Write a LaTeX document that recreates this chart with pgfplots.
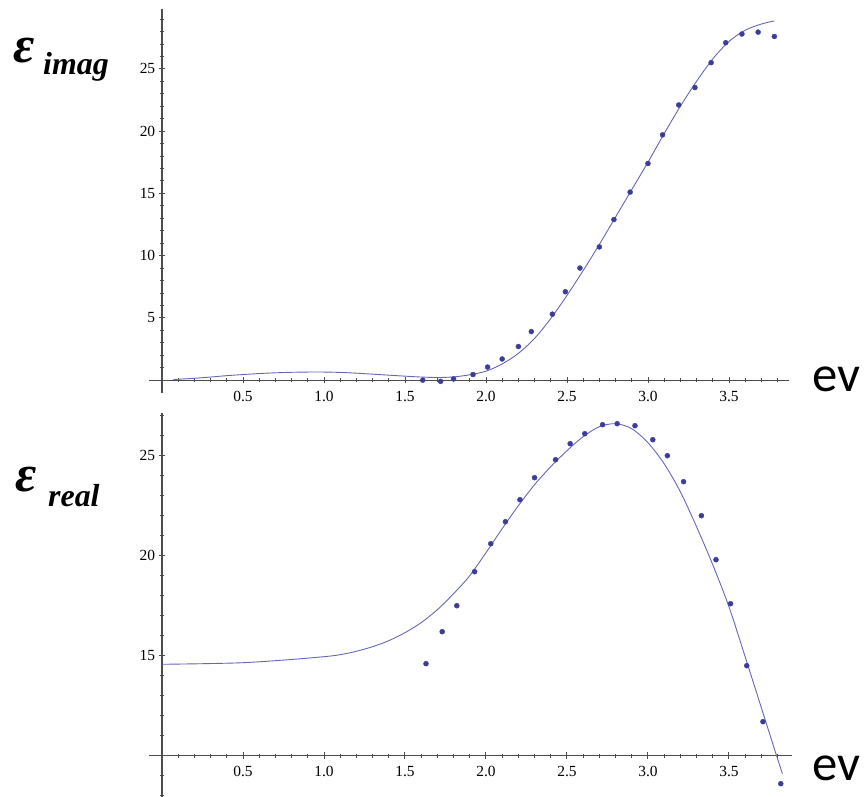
\documentclass[border=0pt]{standalone}
\usepackage{fontspec}
\setmainfont{Liberation Serif}
\newfontfamily\calib{Carlito}
\usepackage{pgfplots}
\pgfplotsset{compat=1.18}
\definecolor{pts}{rgb}{0.24,0.24,0.6}
\definecolor{crv}{rgb}{0.40,0.40,0.72}
\definecolor{axc}{rgb}{0.3,0.3,0.3}

\pgfplotsset{mmstyle/.style={
  scale only axis,
  clip=false,
  tick style={axc, line width=0.9bp},
  major tick length=6.5bp,
  minor tick length=3.8bp,
  tick align=inside,
  tick label style={font=\fontsize{15.5}{17}\selectfont, text=black},
  /pgf/number format/assume math mode=true,
  xtick={0.5,1.0,1.5,2.0,2.5,3.0,3.5},
  minor xtick={0.1,0.2,0.3,0.4,0.6,0.7,0.8,0.9,1.1,1.2,1.3,1.4,1.6,1.7,1.8,1.9,2.1,2.2,2.3,2.4,2.6,2.7,2.8,2.9,3.1,3.2,3.3,3.4,3.6,3.7,3.8},
  xticklabel style={yshift=-4bp, /pgf/number format/fixed, /pgf/number format/fixed zerofill, /pgf/number format/precision=1},
},
noarrows/.style={
  axis line style={axc, line width=1.1bp, -},
  every inner x axis line/.append style={-},
  every inner y axis line/.append style={-},
  every outer x axis line/.append style={-},
  every outer y axis line/.append style={-},
}}

\pgfplotstableread{
x y
1.61 0.0
1.72 -0.1
1.80 0.1
1.92 0.45
2.01 1.05
2.10 1.7
2.20 2.7
2.28 3.9
2.41 5.3
2.49 7.1
2.58 9.0
2.70 10.7
2.79 12.9
2.89 15.1
3.00 17.4
3.09 19.7
3.19 22.1
3.29 23.5
3.39 25.5
3.48 27.1
3.58 27.8
3.68 27.95
3.78 27.6
}\imagpts

\pgfplotstableread{
x y
0.07 0.05
0.2 0.15
0.3 0.25
0.4 0.36
0.5 0.45
0.6 0.53
0.7 0.59
0.8 0.63
0.9 0.65
1.0 0.65
1.1 0.62
1.2 0.56
1.3 0.48
1.4 0.40
1.5 0.32
1.6 0.25
1.7 0.21
1.8 0.26
1.9 0.43
2.0 0.72
2.1 1.3
2.2 2.15
2.3 3.35
2.4 4.95
2.5 6.8
2.6 8.8
2.7 10.9
2.8 13.1
2.9 15.3
3.0 17.5
3.1 19.8
3.2 22.0
3.3 24.0
3.4 25.8
3.5 27.2
3.6 28.1
3.7 28.6
3.78 28.85
}\imagcrv

\pgfplotstableread{
x y
1.63 14.6
1.73 16.2
1.82 17.5
1.93 19.2
2.03 20.6
2.12 21.7
2.21 22.8
2.30 23.9
2.43 24.8
2.52 25.6
2.61 26.1
2.72 26.55
2.81 26.6
2.92 26.5
3.03 25.8
3.12 25.0
3.22 23.7
3.33 22.0
3.42 19.8
3.51 17.6
3.61 14.5
3.71 11.7
3.82 8.6
}\realpts

\pgfplotstableread{
x y
0.0 14.57
0.25 14.6
0.5 14.65
0.75 14.78
1.0 14.95
1.1 15.05
1.2 15.22
1.3 15.45
1.4 15.75
1.5 16.15
1.6 16.65
1.7 17.3
1.8 18.1
1.9 19.0
2.0 20.15
2.1 21.35
2.2 22.5
2.3 23.55
2.4 24.45
2.5 25.25
2.6 25.95
2.7 26.45
2.8 26.6
2.9 26.35
3.0 25.65
3.1 24.6
3.2 23.2
3.3 21.45
3.4 19.55
3.5 17.45
3.6 14.95
3.7 12.4
3.8 9.85
3.83 9.1
}\realcrv

\begin{document}
\begin{tikzpicture}
\useasboundingbox (0,0) rectangle (864bp,797bp);

\begin{axis}[mmstyle, at={(149bp,403.9bp)}, anchor=south west,
  width=639.9bp, height=384bp,
  xmin=-0.08, xmax=3.87, ymin=-1.04, ymax=29.8,
  axis lines=middle,
  noarrows,
  ytick={5,10,15,20,25},
  minor ytick={1,2,3,4,6,7,8,9,11,12,13,14,16,17,18,19,21,22,23,24,26,27,28,29}]
\addplot[crv, line width=0.9bp, smooth, no marks] table {\imagcrv};
\addplot[pts, only marks, mark=*, mark size=2.5bp] table {\imagpts};
\end{axis}

\begin{axis}[mmstyle, at={(149bp,0.3bp)}, anchor=south west,
  width=643.1bp, height=384bp,
  xmin=-0.08, xmax=3.89, ymin=7.95, ymax=27.15,
  axis y line=middle, axis x line=bottom, axis x line shift=-41bp,
  noarrows,
  ytick={15,20,25},
  minor ytick={8,9,11,12,13,14,16,17,18,19,21,22,23,24,26,27}]
\addplot[crv, line width=0.9bp, smooth, no marks] table {\realcrv};
\addplot[pts, only marks, mark=*, mark size=2.5bp] table {\realpts};
\end{axis}

\node[anchor=base west, inner sep=0] at (812bp,405bp) {\calib\fontsize{51}{51}\selectfont ev};
\node[anchor=base west, inner sep=0] at (812bp,17bp) {\calib\fontsize{51}{51}\selectfont ev};

\node[anchor=base west, inner sep=0] at (13bp,734bp) {\fontsize{52}{52}\selectfont\bfseries\itshape ε};
\node[anchor=base west, inner sep=0] at (43bp,722bp) {\fontsize{32}{32}\selectfont\bfseries\itshape imag};
\node[anchor=base west, inner sep=0] at (15bp,305bp) {\fontsize{52}{52}\selectfont\bfseries\itshape ε};
\node[anchor=base west, inner sep=0] at (48bp,290bp) {\fontsize{32}{32}\selectfont\bfseries\itshape real};
\end{tikzpicture}
\end{document}
